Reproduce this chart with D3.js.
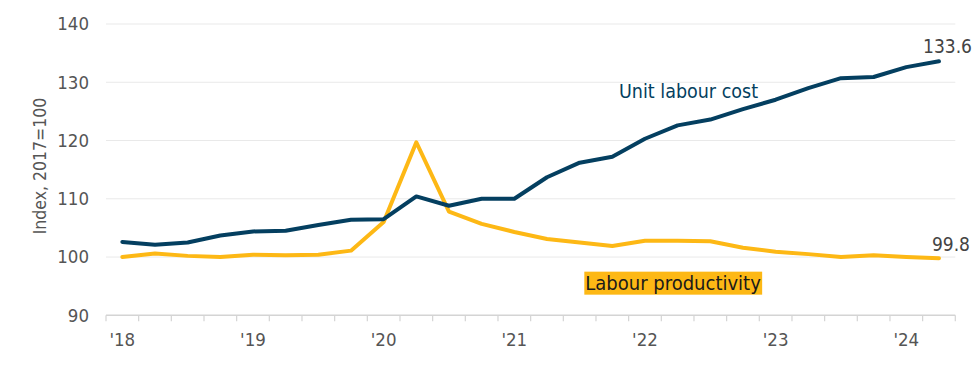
<!DOCTYPE html>
<html>
<head>
<meta charset="utf-8">
<script src="https://cdn.jsdelivr.net/npm/d3@7"></script>
<style>
  html, body { margin: 0; padding: 0; background: #fff; }
  svg { display: block; font-family: "DejaVu Sans Condensed", "DejaVu Sans", sans-serif; font-stretch: condensed; }
</style>
</head>
<body>
<svg id="chart" width="980" height="365"></svg>
<script>
const quarters = [
  "2018Q1","2018Q2","2018Q3","2018Q4",
  "2019Q1","2019Q2","2019Q3","2019Q4",
  "2020Q1","2020Q2","2020Q3","2020Q4",
  "2021Q1","2021Q2","2021Q3","2021Q4",
  "2022Q1","2022Q2","2022Q3","2022Q4",
  "2023Q1","2023Q2","2023Q3","2023Q4",
  "2024Q1","2024Q2"
];
const unitLabourCost = [
  102.6, 102.1, 102.5, 103.7,
  104.4, 104.5, 105.5, 106.4,
  106.5, 110.4, 108.8, 110.0,
  110.0, 113.7, 116.2, 117.2,
  120.3, 122.6, 123.6, 125.4,
  127.0, 129.0, 130.7, 130.9,
  132.6, 133.6
];
const labourProductivity = [
  100.0, 100.6, 100.2, 100.0,
  100.4, 100.3, 100.4, 101.1,
  106.0, 119.7, 107.8, 105.7,
  104.3, 103.1, 102.5, 101.9,
  102.8, 102.8, 102.7, 101.6,
  100.9, 100.5, 100.0, 100.3,
  100.0, 99.8
];
const yTicks = [90, 100, 110, 120, 130, 140];
const yearLabels = ["'18","'19","'20","'21","'22","'23","'24"];
const yTitle = "Index, 2017=100";
const seriesNames = ["Unit labour cost", "Labour productivity"];

(function () {
const navy = "#043F60";
const gold = "#FDB815";

const svg = d3.select("#chart");
const mLeft = 106, mRight = 955.3, mTop = 24, mBottom = 315.3;

const x = d3.scaleBand().domain(quarters).range([mLeft, mRight]).paddingInner(0).paddingOuter(0);
const xc = q => x(q) + x.bandwidth() / 2;
const y = d3.scaleLinear().domain([90, 140]).range([mBottom, mTop]);

// gridlines
svg.append("g").selectAll("line")
  .data(yTicks.filter(t => t !== 90))
  .join("line")
  .attr("x1", mLeft).attr("x2", mRight)
  .attr("y1", d => y(d)).attr("y2", d => y(d))
  .attr("stroke", "#e9e9e9").attr("stroke-width", 1);

// y axis labels
const yAxis = d3.axisLeft(y).tickValues(yTicks).tickSize(0).tickPadding(17);
const yg = svg.append("g").attr("transform", `translate(${mLeft},0)`).call(yAxis);
yg.select(".domain").remove();
yg.attr("font-family", null);
yg.selectAll("text").attr("fill", "#555").attr("font-size", 18.5);

// x axis
const xAxis = d3.axisBottom(x).tickSize(0).tickFormat(q => q.endsWith("Q1") ? yearLabels[+q.slice(2,4) - 18] : "");
const xg = svg.append("g").attr("transform", `translate(0,${mBottom})`).call(xAxis);
xg.attr("font-family", null);
xg.select(".domain").attr("stroke", "#d4d4d4").attr("stroke-width", 1.5).attr("d", `M${mLeft},0H${mRight}`);
xg.selectAll("text").attr("fill", "#555").attr("font-size", 18.5).attr("dy", "1.52em");
// band boundary ticks
xg.append("g").selectAll("line")
  .data(quarters.map(q => x(q)).concat([mRight]))
  .join("line")
  .attr("x1", d => d).attr("x2", d => d)
  .attr("y1", 0).attr("y2", 6)
  .attr("stroke", "#d4d4d4").attr("stroke-width", 1.2);

// y title
svg.append("text")
  .attr("transform", `translate(46,166) rotate(-90)`)
  .attr("text-anchor", "middle")
  .attr("fill", "#555").attr("font-size", 17.5)
  .text(yTitle);

// lines
const line = d3.line().x((d, i) => xc(quarters[i])).y(d => y(d)).curve(d3.curveLinear);
svg.append("path").datum(labourProductivity)
  .attr("d", line).attr("fill", "none").attr("stroke", gold)
  .attr("stroke-width", 4).attr("stroke-linecap", "round").attr("stroke-linejoin", "round");
svg.append("path").datum(unitLabourCost)
  .attr("d", line).attr("fill", "none").attr("stroke", navy)
  .attr("stroke-width", 4).attr("stroke-linecap", "round").attr("stroke-linejoin", "round");

// end labels
const lastQ = quarters[quarters.length - 1];
const lastX = xc(lastQ);
svg.append("text").attr("x", lastX + 33).attr("y", y(unitLabourCost[unitLabourCost.length - 1]) - 8)
  .attr("text-anchor", "end").attr("fill", "#444").attr("font-size", 19)
  .text(unitLabourCost[unitLabourCost.length - 1].toFixed(1));
svg.append("text").attr("x", lastX + 31).attr("y", y(labourProductivity[labourProductivity.length - 1]) - 7)
  .attr("text-anchor", "end").attr("fill", "#444").attr("font-size", 19)
  .text(labourProductivity[labourProductivity.length - 1].toFixed(1));

// series labels
svg.append("text").attr("x", xc("2022Q1") - 26).attr("y", y(127.3))
  .attr("fill", navy).attr("font-size", 19.5).text(seriesNames[0]);

const lp = svg.append("g");
const lpText = lp.append("text").attr("x", xc("2021Q4") - 27).attr("y", y(94.4))
  .attr("fill", "#1a1a1a").attr("font-size", 20).text(seriesNames[1]);
const bb = lpText.node().getBBox();
lp.insert("rect", "text")
  .attr("x", bb.x - 1).attr("y", bb.y + 1)
  .attr("width", bb.width + 2).attr("height", bb.height - 1)
  .attr("fill", gold);
})();
</script>
</body>
</html>
